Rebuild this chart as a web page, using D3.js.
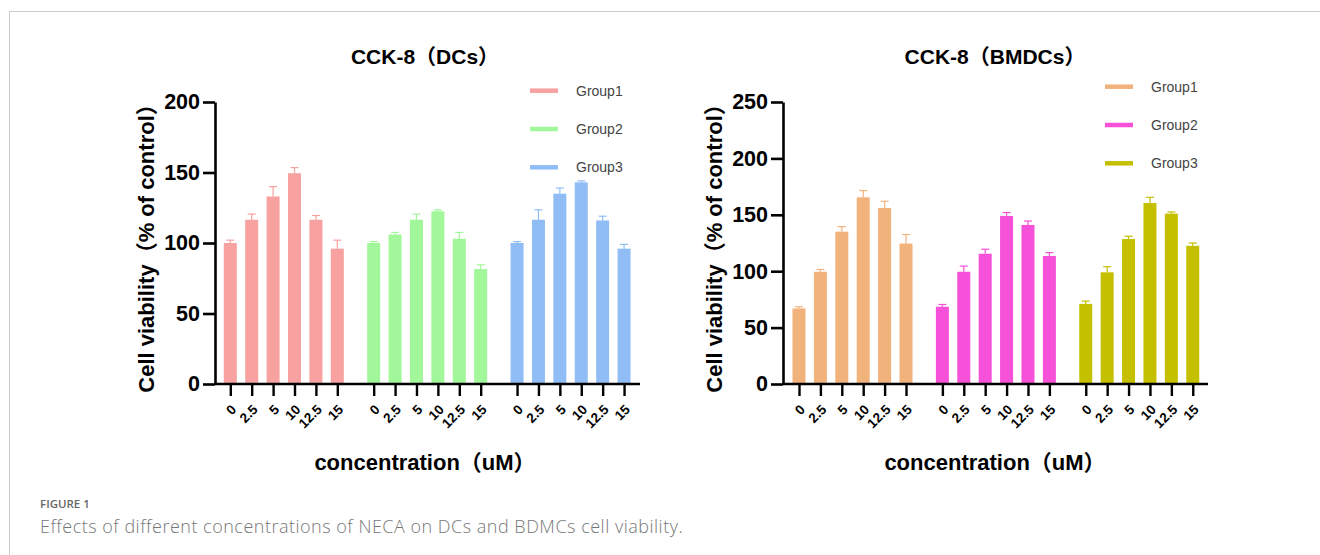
<!DOCTYPE html>
<html>
<head>
<meta charset="utf-8">
<script src="https://cdn.jsdelivr.net/npm/d3@7"></script>
<style>
  html, body { margin: 0; padding: 0; background: #fff; }
  svg { display: block; }
</style>
</head>
<body>
<svg id="chart" width="1320" height="555"></svg>
<script>
// ---------------- DATA ----------------
const concentrations = ["0", "2.5", "5", "10", "12.5", "15"];
const groups = ["Group1", "Group2", "Group3"];

// CCK-8 (DCs)
const dcG1 = [100, 116.5, 133, 149.5, 116.5, 96];
const dcG2 = [100, 106, 116.5, 122.5, 103, 81.5];
const dcG3 = [100, 116.5, 135, 143, 116, 96];
const dcG1Err = [2, 4, 7, 4, 3, 6];
const dcG2Err = [1, 1.5, 4, 1, 4.5, 3];
const dcG3Err = [1, 7, 4, 1, 3, 3];
const dcTicks = [0, 50, 100, 150, 200];
const dcColors = ["#f7a1a1", "#a2f79a", "#90bdf5"];

// CCK-8 (BMDCs)
const bmG1 = [67, 99.5, 135, 165.5, 156, 124.5];
const bmG2 = [68.5, 99.5, 115.5, 149, 141, 113.5];
const bmG3 = [71, 99, 128.5, 160.5, 151, 122.5];
const bmG1Err = [1.5, 2, 4.5, 6, 6, 8];
const bmG2Err = [2, 5, 4, 3, 3.5, 3];
const bmG3Err = [2.5, 5, 2.5, 5, 1.5, 2.5];
const bmTicks = [0, 50, 100, 150, 200, 250];
const bmColors = ["#f2b27c", "#f651d8", "#c4c000"];

// ---------------- DRAW ----------------
const svg = d3.select("#chart");
const boldFont = "'Liberation Sans', Arial, 'Noto Sans CJK SC', sans-serif";

// page frame
svg.append("line").attr("x1", 9).attr("x2", 1320).attr("y1", 11.5).attr("y2", 11.5)
  .attr("stroke", "#cccccc").attr("stroke-width", 1);
svg.append("line").attr("x1", 9.5).attr("x2", 9.5).attr("y1", 11).attr("y2", 555)
  .attr("stroke", "#cccccc").attr("stroke-width", 1);

function drawPanel(cfg) {
  const g = svg.append("g");
  const gapSlots = 0.7;
  const nSlots = 3 * 6 + 2 * gapSlots - 1;
  const x = d3.scaleLinear().domain([0, nSlots]).range([cfg.firstX, cfg.firstX + cfg.step * nSlots]);
  const y = d3.scaleLinear().domain([0, cfg.yMax]).range([cfg.y0, cfg.yTop]);
  const slot = (gi, ci) => gi * (6 + gapSlots) + ci;
  const barW = 13;

  // bars
  cfg.series.forEach((vals, gi) => {
    const errs = cfg.errors[gi];
    const color = cfg.colors[gi];
    vals.forEach((v, ci) => {
      const cx = x(slot(gi, ci));
      g.append("rect")
        .attr("x", cx - barW / 2).attr("width", barW)
        .attr("y", y(v)).attr("height", y(0) - y(v))
        .attr("fill", color);
      const e = errs[ci];
      g.append("line").attr("x1", cx).attr("x2", cx)
        .attr("y1", y(v)).attr("y2", y(v + e))
        .attr("stroke", color).attr("stroke-width", 1.2);
      g.append("line").attr("x1", cx - 4).attr("x2", cx + 4)
        .attr("y1", y(v + e)).attr("y2", y(v + e))
        .attr("stroke", color).attr("stroke-width", 1.2);
    });
  });

  // y axis
  const yAxis = d3.axisLeft(y).tickValues(cfg.ticks).tickSize(12).tickSizeOuter(0).tickPadding(3);
  const ya = g.append("g").attr("transform", `translate(${cfg.axisX},0)`).call(yAxis);
  ya.selectAll("path, line").attr("stroke", "#000").attr("stroke-width", 2.6);
  ya.selectAll("text").attr("font-family", boldFont).attr("font-weight", "bold")
    .attr("font-size", 21.5).attr("fill", "#000");

  // x axis
  const tickVals = [];
  const tickLabels = [];
  groups.forEach((_, gi) => concentrations.forEach((c, ci) => {
    tickVals.push(slot(gi, ci));
    tickLabels.push(c);
  }));
  g.append("line").attr("x1", cfg.axisX).attr("x2", cfg.xEnd)
    .attr("y1", cfg.y0).attr("y2", cfg.y0)
    .attr("stroke", "#000").attr("stroke-width", 2.6);
  const xAxis = d3.axisBottom(x).tickValues(tickVals).tickSize(12).tickSizeOuter(0)
    .tickFormat((d, i) => tickLabels[i]);
  const xa = g.append("g").attr("transform", `translate(0,${cfg.y0})`).call(xAxis);
  xa.select(".domain").remove();
  xa.selectAll("line").attr("stroke", "#000").attr("stroke-width", 2.4);
  xa.selectAll("text")
    .attr("font-family", boldFont).attr("font-weight", "bold").attr("font-size", 13.5)
    .attr("fill", "#000")
    .attr("text-anchor", "end")
    .attr("y", 0).attr("dy", "0.35em")
    .attr("transform", "translate(3,23) rotate(-45)");

  // titles
  g.append("text").attr("x", cfg.titleX).attr("y", 64)
    .attr("text-anchor", "middle").attr("font-family", boldFont)
    .attr("font-weight", "bold").attr("font-size", 21).text(cfg.title);
  g.append("text").attr("x", cfg.titleX).attr("y", 470)
    .attr("text-anchor", "middle").attr("font-family", boldFont)
    .attr("font-weight", "bold").attr("font-size", 22).text("concentration（uM）");
  g.append("text")
    .attr("transform", `translate(${cfg.axisX - 61},243) rotate(-90)`)
    .attr("text-anchor", "middle").attr("font-family", boldFont)
    .attr("font-weight", "bold").attr("font-size", 22).text("Cell viability（% of control）");

  // legend
  groups.forEach((name, gi) => {
    const ly = cfg.legendY + gi * 38.3;
    g.append("line").attr("x1", cfg.legendX).attr("x2", cfg.legendX + 28)
      .attr("y1", ly).attr("y2", ly)
      .attr("stroke", cfg.colors[gi]).attr("stroke-width", 4.5);
    g.append("text").attr("x", cfg.legendX + 46).attr("y", ly).attr("dy", "0.35em")
      .attr("font-family", "'Liberation Sans', Arial, sans-serif")
      .attr("font-size", 14).attr("fill", "#444").text(name);
  });
}

drawPanel({
  series: [dcG1, dcG2, dcG3], errors: [dcG1Err, dcG2Err, dcG3Err], colors: dcColors,
  ticks: dcTicks, yMax: 200, title: "CCK-8（DCs）",
  axisX: 215, firstX: 230.3, step: 21.4, xEnd: 640, y0: 384, yTop: 102,
  titleX: 425, legendX: 530, legendY: 90.7
});
drawPanel({
  series: [bmG1, bmG2, bmG3], errors: [bmG1Err, bmG2Err, bmG3Err], colors: bmColors,
  ticks: bmTicks, yMax: 250, title: "CCK-8（BMDCs）",
  axisX: 783, firstX: 799, step: 21.4, xEnd: 1208, y0: 384, yTop: 102,
  titleX: 995, legendX: 1105, legendY: 86.7
});

// caption
svg.append("text").attr("x", 40).attr("y", 508)
  .attr("font-family", "'Open Sans', 'Noto Sans', sans-serif").attr("font-weight", 600)
  .attr("font-size", 11.5).attr("fill", "#666").text("FIGURE 1");
svg.append("text").attr("x", 40).attr("y", 533)
  .attr("font-family", "'Open Sans', 'Noto Sans', sans-serif").attr("font-weight", 300)
  .attr("font-size", 18).attr("letter-spacing", 0.5).attr("fill", "#777")
  .text("Effects of different concentrations of NECA on DCs and BDMCs cell viability.");
</script>
</body>
</html>
